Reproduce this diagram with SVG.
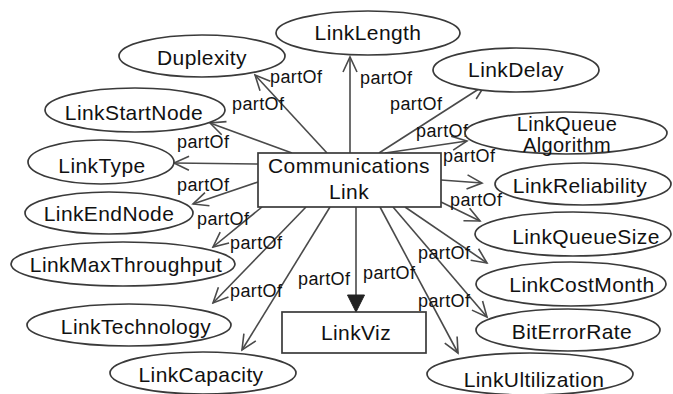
<svg xmlns="http://www.w3.org/2000/svg" width="673" height="394" viewBox="0 0 673 394">
  <defs>
    <style>
      .node ellipse, .node rect { fill: #fff; stroke: #3a3a3a; stroke-width: 1.7; }
      .node text { font-family: "Liberation Sans", Arial, sans-serif; font-size: 21px; letter-spacing: 0.4px; fill: #111; text-anchor: middle; }
      .node .tight { font-size: 20px; }
      .edges path { fill: none; stroke: #4a4a4a; stroke-width: 1.6; }
      .edges .part { marker-end: url(#open); }
      .edges .viz { marker-end: url(#solid); }
      .lbl { font-family: "Liberation Sans", Arial, sans-serif; font-size: 18px; letter-spacing: 0.4px; fill: #111; }
    </style>
    <marker id="open" viewBox="-16 -9 18 18" markerWidth="18" markerHeight="18" refX="0" refY="0" markerUnits="userSpaceOnUse" orient="auto">
      <path d="M-15,-7 L0,0 L-15,7" fill="none" stroke="#4a4a4a" stroke-width="1.6"/>
    </marker>
    <marker id="solid" viewBox="-18 -10 19 20" markerWidth="19" markerHeight="20" refX="0" refY="0" markerUnits="userSpaceOnUse" orient="auto">
      <path d="M-17,-8.5 L0,0 L-17,8.5 Z" fill="#222" stroke="#222" stroke-width="1"/>
    </marker>
  </defs>
  <rect width="673" height="394" fill="#fff"/>

  <!-- partOf connectors -->
  <g id="connectors" class="edges">
    <path class="part" d="M350,153 L350,57"/>
    <path class="part" d="M379,153 L485,85"/>
    <path class="part" d="M385,153 L467,141"/>
    <path class="part" d="M441,180 L482,183"/>
    <path class="part" d="M441,202 L480,221"/>
    <path class="part" d="M405,207 L487,263"/>
    <path class="part" d="M393,207 L487,317"/>
    <path class="part" d="M380,207 L458,353"/>
    <path class="viz" d="M356,207 L356,312"/>
    <path class="part" d="M330,207 L242,350"/>
    <path class="part" d="M306,207 L213,303"/>
    <path class="part" d="M262,207 L213,247"/>
    <path class="part" d="M258,182 L193,204"/>
    <path class="part" d="M258,164 L174,163"/>
    <path class="part" d="M292,153 L210,123"/>
    <path class="part" d="M327,153 L255,75"/>
  </g>

  <!-- edge labels -->
  <g id="edge-labels">
    <text class="lbl" x="360" y="84">partOf</text>
    <text class="lbl" x="390" y="110">partOf</text>
    <text class="lbl" x="416" y="137">partOf</text>
    <text class="lbl" x="443" y="162">partOf</text>
    <text class="lbl" x="450" y="206">partOf</text>
    <text class="lbl" x="418" y="259">partOf</text>
    <text class="lbl" x="418" y="307">partOf</text>
    <text class="lbl" x="363" y="279">partOf</text>
    <text class="lbl" x="298" y="285">partOf</text>
    <text class="lbl" x="230" y="297">partOf</text>
    <text class="lbl" x="230" y="249">partOf</text>
    <text class="lbl" x="197" y="225">partOf</text>
    <text class="lbl" x="177" y="191">partOf</text>
    <text class="lbl" x="177" y="148">partOf</text>
    <text class="lbl" x="232" y="110">partOf</text>
    <text class="lbl" x="270" y="83">partOf</text>
  </g>

  <g id="CommunicationsLink" class="node">
    <rect x="258" y="153" width="183" height="54"/>
    <text x="349" y="173">Communications</text>
    <text x="349" y="199">Link</text>
  </g>
  <g id="LinkViz" class="node">
    <rect x="282" y="312" width="144" height="41"/>
    <text x="356" y="340">LinkViz</text>
  </g>

  <g id="LinkLength" class="node">
    <ellipse cx="368" cy="33" rx="92" ry="22"/>
    <text x="368" y="40">LinkLength</text>
  </g>
  <g id="LinkDelay" class="node">
    <ellipse cx="516" cy="70" rx="83" ry="22"/>
    <text x="516" y="77">LinkDelay</text>
  </g>
  <g id="Duplexity" class="node">
    <ellipse cx="202" cy="56" rx="83" ry="21"/>
    <text x="202" y="65">Duplexity</text>
  </g>
  <g id="LinkStartNode" class="node">
    <ellipse cx="135" cy="110" rx="90" ry="22"/>
    <text x="134" y="120">LinkStartNode</text>
  </g>
  <g id="LinkType" class="node">
    <ellipse cx="101" cy="162" rx="73" ry="22"/>
    <text x="102" y="173">LinkType</text>
  </g>
  <g id="LinkEndNode" class="node">
    <ellipse cx="109" cy="213" rx="84" ry="21"/>
    <text x="109" y="221">LinkEndNode</text>
  </g>
  <g id="LinkMaxThroughput" class="node">
    <ellipse cx="123" cy="264" rx="112" ry="22"/>
    <text x="126" y="272">LinkMaxThroughput</text>
  </g>
  <g id="LinkTechnology" class="node">
    <ellipse cx="129" cy="325" rx="102" ry="21"/>
    <text x="136" y="334">LinkTechnology</text>
  </g>
  <g id="LinkCapacity" class="node">
    <ellipse cx="203" cy="373" rx="93" ry="21"/>
    <text x="201" y="382">LinkCapacity</text>
  </g>
  <g id="LinkQueueAlgorithm" class="node">
    <ellipse cx="566" cy="133" rx="101" ry="21"/>
    <text class="tight" x="567" y="131">LinkQueue</text>
    <text class="tight" x="567" y="152">Algorithm</text>
  </g>
  <g id="LinkReliability" class="node">
    <ellipse cx="583" cy="184" rx="88" ry="21"/>
    <text x="580" y="193">LinkReliability</text>
  </g>
  <g id="LinkQueueSize" class="node">
    <ellipse cx="573" cy="234" rx="98" ry="22"/>
    <text x="586" y="244">LinkQueueSize</text>
  </g>
  <g id="LinkCostMonth" class="node">
    <ellipse cx="571" cy="284" rx="95" ry="22"/>
    <text x="582" y="292">LinkCostMonth</text>
  </g>
  <g id="BitErrorRate" class="node">
    <ellipse cx="568" cy="330" rx="92" ry="21"/>
    <text x="572" y="339">BitErrorRate</text>
  </g>
  <g id="LinkUltilization" class="node">
    <ellipse cx="530" cy="374" rx="103" ry="21"/>
    <text x="534" y="387">LinkUltilization</text>
  </g>
</svg>
